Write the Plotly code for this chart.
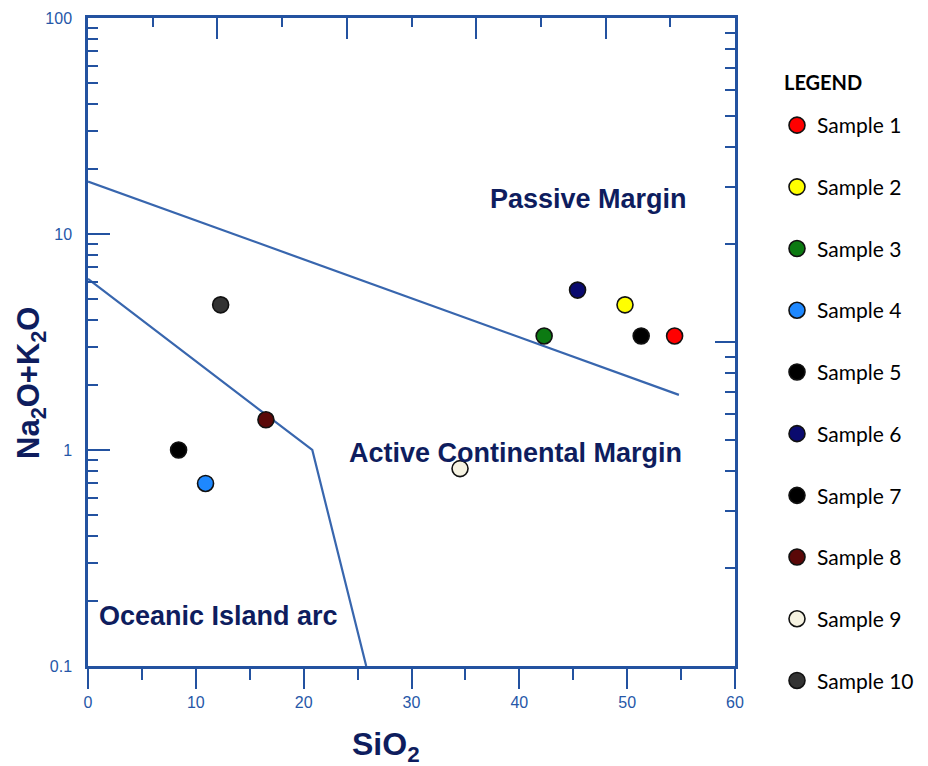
import math
import plotly.graph_objects as go

# ---- data ----
samples = ["Sample 1", "Sample 2", "Sample 3", "Sample 4", "Sample 5",
           "Sample 6", "Sample 7", "Sample 8", "Sample 9", "Sample 10"]
sio2 = [54.4, 49.8, 42.3, 10.9, 8.4, 45.4, 51.3, 16.5, 34.5, 12.3]
alk = [3.37, 4.7, 3.37, 0.70, 1.0, 5.5, 3.37, 1.38, 0.82, 4.7]
colors = ["#ff0000", "#ffff00", "#0c7a12", "#1e88ff", "#000000",
          "#0a0a6e", "#000000", "#5a0808", "#f6f3e2", "#333333"]

# boundary lines
pm_x = [0, 54.8]
pm_y = [17.5, 1.8]
oia_x = [0, 20.8, 25.8]
oia_y = [6.2, 1.0, 0.1]

# region labels
reg_text = ["Passive Margin", "Active Continental Margin", "Oceanic Island arc"]
reg_x = [46.4, 39.6, 12.06]
reg_y = [14.5, 0.97, 0.170]

x_ticks = [0, 10, 20, 30, 40, 50, 60]
y_ticks = [0.1, 1, 10, 100]
y_ticktext = ["0.1", "1", "10", "100"]

AXC = "#2352a0"
LINEC = "#3866ae"
TICKC = "#2657a8"
NAVY = "#0e1d5e"
FONT = "Arial, Liberation Sans, sans-serif"

# plot area in page pixels: x 88..735, y 18..666 (page body has an 8px margin)
PX0, PX1, PY0, PY1 = 88, 735, 18, 666


def px(x):
    return (x - PX0) / (PX1 - PX0)


def py(y):
    return (PY1 - y) / (PY1 - PY0)


fig = go.Figure()

fig.add_trace(go.Scatter(x=pm_x, y=pm_y, mode="lines",
                         line=dict(color=LINEC, width=2.2), showlegend=False, hoverinfo="skip"))
fig.add_trace(go.Scatter(x=oia_x, y=oia_y, mode="lines",
                         line=dict(color=LINEC, width=2.2), showlegend=False, hoverinfo="skip"))

for i, name in enumerate(samples):
    fig.add_trace(go.Scatter(
        x=[sio2[i]], y=[alk[i]], mode="markers", name=name,
        legendgroup=f"g{i}",
        marker=dict(size=16, color=colors[i], line=dict(color="#111111", width=1.6)),
    ))

# dummy trace to carry the top / right axes
fig.add_trace(go.Scatter(x=[None], y=[None], xaxis="x2", yaxis="y2",
                         showlegend=False, hoverinfo="skip"))

for t, xx, yy in zip(reg_text, reg_x, reg_y):
    fig.add_annotation(x=xx, y=math.log10(yy), xref="x", yref="y", text=t,
                       showarrow=False,
                       font=dict(family=FONT, size=27, color=NAVY, weight="bold"))

fig.add_annotation(x=px(386), y=py(769), xref="paper", yref="paper",
                   text="SiO<sub>2</sub>", showarrow=False,
                   font=dict(family=FONT, size=32, color=NAVY, weight="bold"))
fig.add_annotation(x=px(9), y=py(383), xref="paper", yref="paper",
                   text="Na<sub>2</sub>O+K<sub>2</sub>O", showarrow=False, textangle=-90,
                   font=dict(family=FONT, size=31, color=NAVY, weight="bold"))
fig.add_annotation(x=px(782), y=py(82), xref="paper", yref="paper",
                   xanchor="left", yanchor="middle", text="LEGEND", showarrow=False,
                   font=dict(family="Lato, sans-serif", size=20, color="black", weight="bold"))

fig.update_layout(
    width=920, height=758,
    margin=dict(l=PX0 - 8, r=928 - PX1, t=PY0 - 8, b=766 - PY1, autoexpand=False),
    paper_bgcolor="white", plot_bgcolor="white",
    font=dict(family=FONT),
    xaxis=dict(range=[0, 60], tickmode="array", tickvals=x_ticks, automargin=False,
               ticks="outside", ticklen=20, tickwidth=2, tickcolor=AXC,
               minor=dict(dtick=5, tick0=0, ticks="outside", ticklen=11, tickwidth=2, tickcolor=AXC),
               showline=True, linecolor=AXC, linewidth=2.5,
               showgrid=False, zeroline=False,
               tickfont=dict(family=FONT, size=16, color=TICKC)),
    yaxis=dict(type="log", range=[-1, 2], tickmode="array", tickvals=y_ticks, ticktext=y_ticktext,
               automargin=False,
               ticks="inside", ticklen=22, tickwidth=2, tickcolor=AXC,
               minor=dict(dtick="D1", ticks="inside", ticklen=10, tickwidth=2, tickcolor=AXC),
               showline=True, linecolor=AXC, linewidth=2.5,
               showgrid=False, zeroline=False, ticklabelstandoff=10,
               tickfont=dict(family=FONT, size=16, color=TICKC)),
    xaxis2=dict(range=[0, 100], overlaying="x", side="top", anchor="y2", automargin=False,
                tickmode="linear", tick0=0, dtick=20,
                ticks="inside", ticklen=21, tickwidth=2, tickcolor=AXC,
                minor=dict(dtick=10, tick0=0, ticks="inside", ticklen=9, tickwidth=2, tickcolor=AXC),
                showline=True, linecolor=AXC, linewidth=2.5,
                showgrid=False, zeroline=False, showticklabels=False),
    yaxis2=dict(type="log", range=[-1, 1], overlaying="y", side="right", anchor="x2",
                automargin=False,
                tickmode="array", tickvals=[0.1, 1, 10],
                ticks="inside", ticklen=20, tickwidth=2, tickcolor=AXC,
                minor=dict(dtick="D1", ticks="inside", ticklen=10, tickwidth=2, tickcolor=AXC),
                showline=True, linecolor=AXC, linewidth=2.5,
                showgrid=False, zeroline=False, showticklabels=False),
    legend=dict(x=px(777), xanchor="left", y=py(105), yanchor="top",
                traceorder="grouped", tracegroupgap=31.4,
                font=dict(family="Lato, sans-serif", size=21, color="black"),
                bgcolor="rgba(0,0,0,0)"),
    showlegend=True,
)

fig.write_html("out.html")
